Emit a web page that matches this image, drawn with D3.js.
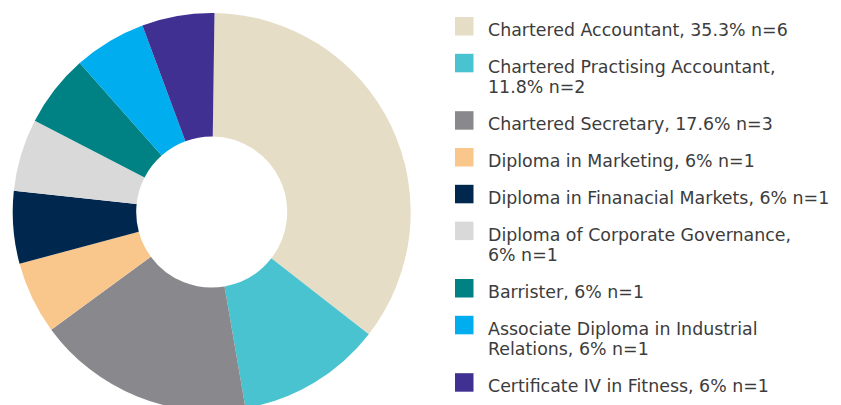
<!DOCTYPE html>
<html>
<head>
<meta charset="utf-8">
<script src="https://cdn.jsdelivr.net/npm/d3@7"></script>
<style>
  body { margin: 0; background: #fff; }
  svg { display: block; }
  .legend text { font-family: "DejaVu Sans", sans-serif; font-size: 17.4px; fill: #3c3c3c; }
</style>
</head>
<body>
<div id="container"></div>
<script>
// qualification categories, legend lines and counts
var categories = ["Chartered Accountant", "Chartered Practising Accountant", "Chartered Secretary",
  "Diploma in Marketing", "Diploma in Finanacial Markets", "Diploma of Corporate Governance",
  "Barrister", "Associate Diploma in Industrial Relations", "Certificate IV in Fitness"];
var counts = [6, 2, 3, 1, 1, 1, 1, 1, 1];
var legendLines = [
  ["Chartered Accountant, 35.3% n=6"],
  ["Chartered Practising Accountant,", "11.8% n=2"],
  ["Chartered Secretary, 17.6% n=3"],
  ["Diploma in Marketing, 6% n=1"],
  ["Diploma in Finanacial Markets, 6% n=1"],
  ["Diploma of Corporate Governance,", "6% n=1"],
  ["Barrister, 6% n=1"],
  ["Associate Diploma in Industrial", "Relations, 6% n=1"],
  ["Certificate IV in Fitness, 6% n=1"]
];
var colors = ["#e6ddc6", "#4ac3d1", "#89888d", "#f9c78b", "#00284f", "#d9d9d9", "#008285", "#00aeef", "#403092"];

var width = 841, height = 405;
var svg = d3.select("#container").append("svg").attr("width", width).attr("height", height);

var color = d3.scaleOrdinal().domain(categories).range(colors);

// donut
var pie = d3.pie().sort(null).value(function(d, i) { return counts[i]; })
  .startAngle(0.014).endAngle(0.014 + 2 * Math.PI);
var arc = d3.arc().innerRadius(75.5).outerRadius(199);

var g = svg.append("g").attr("transform", "translate(211.7,212)");
g.selectAll("path")
  .data(pie(categories))
  .enter()
  .append("path")
  .attr("d", arc)
  .style("fill", function(d) { return color(d.data); });

// legend
var step = 36.8, lineH = 20.6;
var y = 36, rows = [];
legendLines.forEach(function(lines, i) {
  rows.push(y);
  y += step + (lines.length - 1) * lineH;
});

var legend = svg.append("g").attr("class", "legend");
var item = legend.selectAll("g")
  .data(categories)
  .enter()
  .append("g")
  .attr("transform", function(d, i) { return "translate(455," + rows[i] + ")"; });

item.append("rect")
  .attr("x", 0).attr("y", -19)
  .attr("width", 18.5).attr("height", 18.5)
  .style("fill", function(d) { return color(d); });

item.append("text")
  .attr("x", 33)
  .selectAll("tspan")
  .data(function(d, i) { return legendLines[i]; })
  .enter()
  .append("tspan")
  .attr("x", 33)
  .attr("dy", function(d, j) { return j ? lineH : 0; })
  .text(function(d) { return d; });
</script>
</body>
</html>
